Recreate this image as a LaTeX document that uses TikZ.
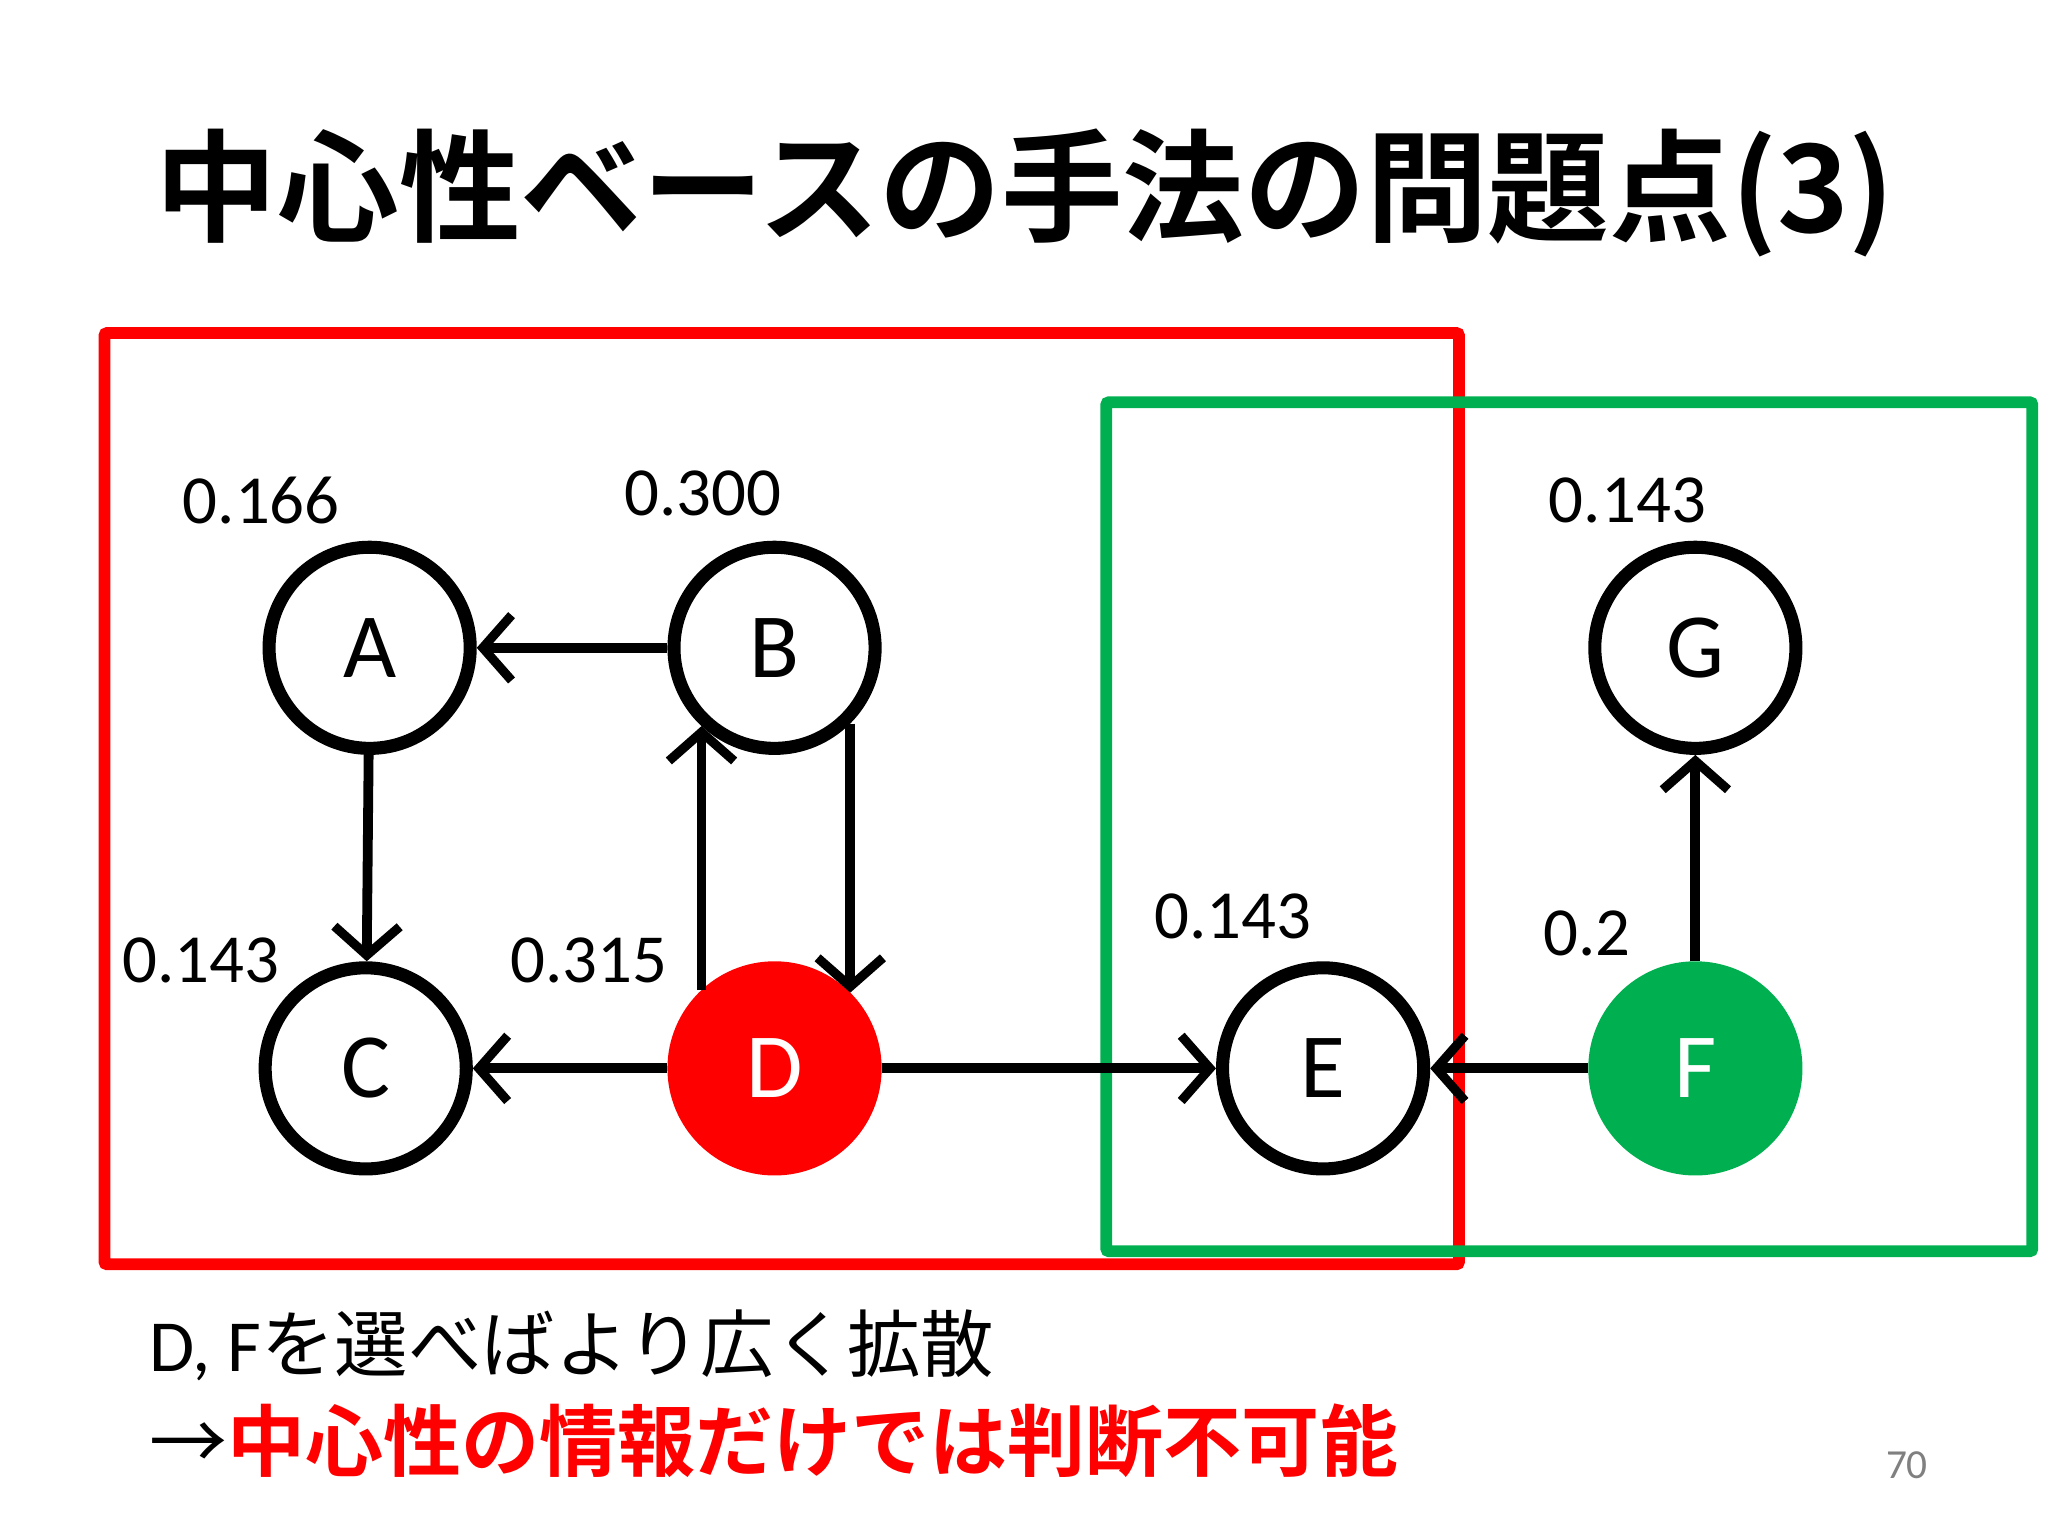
\documentclass[tikz,border=0pt]{standalone}
\usepackage{fontspec}
\setmainfont{Carlito}
\newfontfamily\cjk{Noto Sans CJK JP}
\newfontfamily\cjkb{Noto Sans CJK JP Bold}
\usetikzlibrary{arrows.meta}
\definecolor{myred}{RGB}{255,0,0}
\definecolor{mygreen}{RGB}{0,176,80}
\begin{document}
\begin{tikzpicture}[x=1cm,y=1cm,
  vert/.style={circle,draw=black,line width=0.1cm,minimum size=1.54cm,inner sep=0pt,font=\fontsize{20}{24}\selectfont},
  edge/.style={line width=0.075cm,-{Straight Barb[length=0.22cm,width=0.5cm,line width=0.07cm]}},
  val/.style={font=\fontsize{15}{18}\selectfont}]
\useasboundingbox (0,0) rectangle (15.68,11.76);
\fill[white] (0,0) rectangle (15.68,11.76);
\node[font=\cjkb\fontsize{26.5}{30}\selectfont] (title) at (7.85,10.28) {中心性ベースの手法の問題点(3)};
\draw[myred,line width=0.09cm,rounded corners=0.02cm] (0.80,2.08) rectangle (11.17,9.21);
\draw[mygreen,line width=0.09cm,rounded corners=0.02cm] (8.47,2.18) rectangle (15.56,8.68);
\node[vert] (A) at (2.83,6.80) {A};
\node[vert] (B) at (5.93,6.80) {B};
\node[vert] (C) at (2.80,3.58) {C};
\node[vert,draw=myred,fill=myred,text=white] (D) at (5.93,3.58) {D};
\node[vert] (E) at (10.13,3.58) {E};
\node[vert,draw=mygreen,fill=mygreen,text=white] (F) at (12.98,3.58) {F};
\node[vert] (G) at (12.98,6.80) {G};
\draw[edge] (B) -- (A);
\draw[edge] (A) -- (C);
\draw[edge] (D.133) -- (B.227);
\draw[edge] (B.315) -- (D.45);
\draw[edge] (D) -- (C);
\draw[edge] (D) -- (E);
\draw[edge] (F) -- (E);
\draw[edge] (F) -- (G);
\node[val] (vA) at (2.00,7.93) {0.166};
\node[val] (vB) at (5.38,7.98) {0.300};
\node[val] (vC) at (1.54,4.41) {0.143};
\node[val] (vD) at (4.51,4.41) {0.315};
\node[val] (vE) at (9.44,4.74) {0.143};
\node[val] (vF) at (12.15,4.61) {0.2};
\node[val] (vG) at (12.46,7.93) {0.143};
\node[anchor=west,font=\fontsize{16}{19}\selectfont] (t1) at (1.02,1.46) {D, F{\cjk を選べばより広く拡散}};
\node[anchor=west,font=\fontsize{17}{20}\selectfont] (t2) at (1.02,0.73) {{\cjk →}\textcolor{myred}{\cjkb 中心性の情報だけでは判断不可能}};
\node[font=\fontsize{9}{11}\selectfont,text=gray] (pg) at (14.60,0.54) {70};
\end{tikzpicture}
\end{document}
